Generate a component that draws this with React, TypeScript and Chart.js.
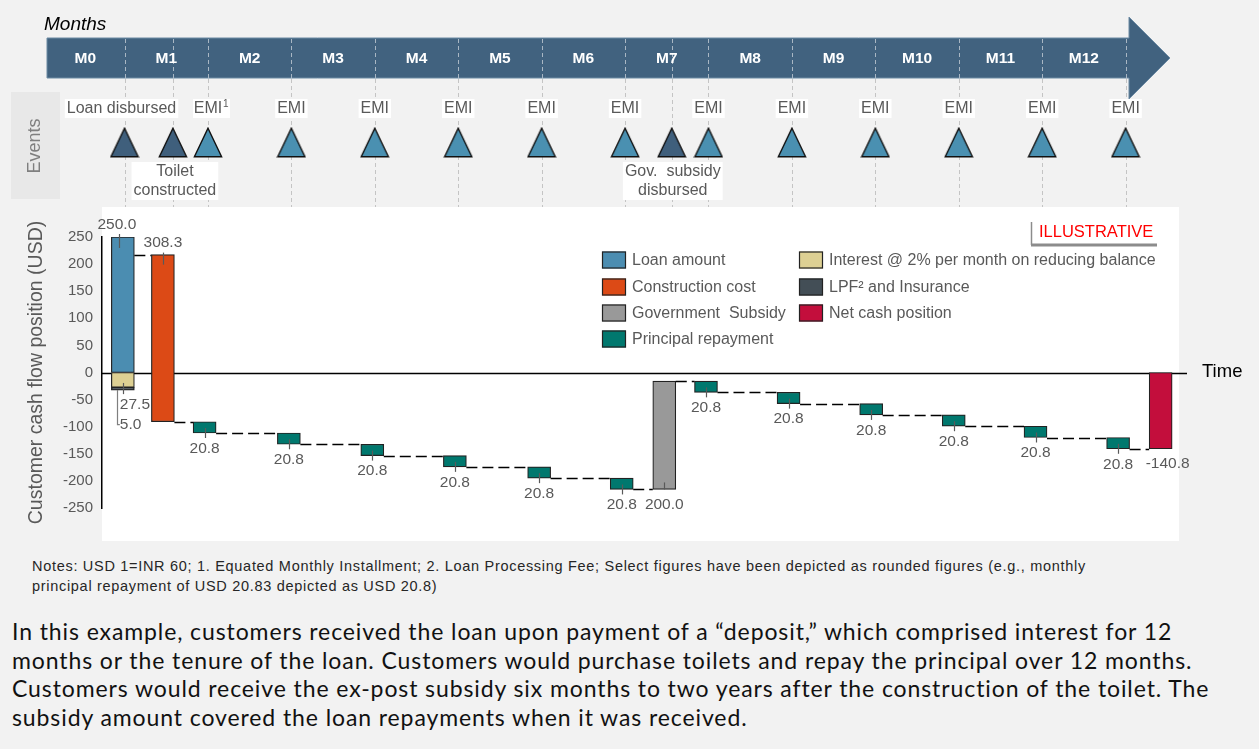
import React, { useEffect, useRef } from 'react';
import { Chart, registerables } from 'chart.js';

Chart.register(...registerables);

const FONT = "'Liberation Sans', Arial, sans-serif";

// ---------- timeline (months) ----------
const monthLabels = ['M0', 'M1', 'M2', 'M3', 'M4', 'M5', 'M6', 'M7', 'M8', 'M9', 'M10', 'M11', 'M12'];
const monthCentres = [0.53, 1.5, 2.5, 3.5, 4.5, 5.5, 6.5, 7.5, 8.5, 9.5, 10.5, 11.5, 12.5];

// ---------- events ----------
const milestoneTimes = [1.0, 1.58, 7.56];
const milestoneLabels = [['Loan disbursed'], ['Toilet', 'constructed'], ['Gov.  subsidy', 'disbursed']];
const emiTimes = [2, 3, 4, 5, 6, 7, 8, 9, 10, 11, 12, 13];
const emiLabel = 'EMI';

// ---------- waterfall values (USD) ----------
const loanAmount = 250.0;
const interestDeposit = 27.5;
const lpfInsurance = 5.0;
const constructionCost = 308.3;
const principalRepayments = [20.83, 20.83, 20.83, 20.83, 20.83, 20.83, 20.83, 20.83, 20.83, 20.83, 20.83, 20.83];
const governmentSubsidy = 200.0;

// bar times (months)
const loanTime = 0.98;
const constructionTime = 1.46;
const principalTimes = [1.96, 2.97, 3.97, 4.96, 5.97, 6.96, 7.97, 8.96, 9.95, 10.94, 11.92, 12.91];
const subsidyTime = 7.47;
const netTime = 13.42;

const seriesNames = [
  'Loan amount',
  'Construction cost',
  'Government  Subsidy',
  'Principal repayment',
  'Interest @ 2% per month on reducing balance',
  'LPF² and Insurance',
  'Net cash position',
];
const seriesColors = ['#4b8db1', '#dc4a16', '#999999', '#00786e', '#ddd093', '#434e56', '#c30e3c'];

const yTicks = { min: -250, max: 250, step: 50 };
const xRange = { min: 0.73, max: 13.64 };

// ---------- waterfall construction ----------
let level = loanAmount - interestDeposit - lpfInsurance;
const constructionBar: [number, number] = [level, level - constructionCost];
level -= constructionCost;
const connectors: { t0: number; t1: number; v: number }[] = [];
connectors.push({ t0: loanTime, t1: constructionTime, v: constructionBar[0] });
let prevT = constructionTime;
let govBar: [number, number] = [0, 0];
let subsidyDone = false;
const principalBars: [number, number][] = [];
principalTimes.forEach((t, i) => {
  if (!subsidyDone && t > subsidyTime) {
    connectors.push({ t0: prevT, t1: subsidyTime, v: level });
    govBar = [level, level + governmentSubsidy];
    level += governmentSubsidy;
    prevT = subsidyTime;
    subsidyDone = true;
  }
  connectors.push({ t0: prevT, t1: t, v: level });
  principalBars.push([level, level - principalRepayments[i]]);
  level -= principalRepayments[i];
  prevT = t;
});
connectors.push({ t0: prevT, t1: netTime, v: level });
const netBar: [number, number] = [0, level];

function makeTriangle(fill: string) {
  const c = document.createElement('canvas');
  c.width = 30;
  c.height = 31;
  const g = c.getContext('2d')!;
  g.beginPath();
  g.moveTo(15, 1.2);
  g.lineTo(28.6, 29.8);
  g.lineTo(1.4, 29.8);
  g.closePath();
  g.fillStyle = fill;
  g.fill();
  g.lineWidth = 1.4;
  g.strokeStyle = '#111';
  g.lineJoin = 'miter';
  g.stroke();
  return c;
}

const timelinePlugin = {
  id: 'timeline',
  beforeDatasetsDraw(chart: any) {
    const ctx = chart.ctx as CanvasRenderingContext2D;
    const xs = chart.scales.x;
    ctx.save();
    // Months caption
    ctx.font = `italic 19px ${FONT}`;
    ctx.fillStyle = '#000';
    ctx.textBaseline = 'middle';
    ctx.textAlign = 'left';
    ctx.fillText('Months', 44, 25);

    // Events box
    ctx.fillStyle = '#e8e8e8';
    ctx.fillRect(11, 92, 49, 107);
    ctx.save();
    ctx.translate(35, 146);
    ctx.rotate(-Math.PI / 2);
    ctx.font = `18px ${FONT}`;
    ctx.fillStyle = '#7f7f7f';
    ctx.textAlign = 'center';
    ctx.fillText('Events', 0, 0);
    ctx.restore();

    // band arrow
    ctx.beginPath();
    ctx.moveTo(47, 38);
    ctx.lineTo(1129, 38);
    ctx.lineTo(1129, 17);
    ctx.lineTo(1170, 58);
    ctx.lineTo(1129, 99);
    ctx.lineTo(1129, 78);
    ctx.lineTo(47, 78);
    ctx.closePath();
    ctx.fillStyle = '#41627f';
    ctx.fill();
    ctx.strokeStyle = '#6d8ba4';
    ctx.lineWidth = 1;
    ctx.stroke();

    // dashed lines
    const all = [...milestoneTimes, ...emiTimes];
    ctx.setLineDash([4, 3]);
    ctx.lineWidth = 1;
    all.forEach((t) => {
      const px = Math.round(xs.getPixelForValue(t)) + 0.5;
      ctx.strokeStyle = '#a9b7c4';
      ctx.beginPath();
      ctx.moveTo(px, 39);
      ctx.lineTo(px, 78);
      ctx.stroke();
      ctx.strokeStyle = '#c4c4c4';
      ctx.beginPath();
      ctx.moveTo(px, 79);
      ctx.lineTo(px, 207);
      ctx.stroke();
    });
    ctx.setLineDash([]);

    // month labels
    ctx.font = `bold 15.5px ${FONT}`;
    ctx.fillStyle = '#ffffff';
    ctx.textAlign = 'center';
    monthLabels.forEach((m, i) => {
      ctx.fillText(m, xs.getPixelForValue(monthCentres[i]), 59);
    });

    // event labels
    ctx.font = `16px ${FONT}`;
    const drawBox = (lines: string[], cx: number, top: number) => {
      const w = Math.max(...lines.map((l) => ctx.measureText(l).width)) + 4;
      const h = lines.length === 1 ? 19 : 38;
      ctx.fillStyle = '#ffffff';
      ctx.fillRect(cx - w / 2, top, w, h);
      ctx.fillStyle = '#595959';
      lines.forEach((l, i) => ctx.fillText(l, cx, top + 10 + i * 19));
    };
    const offs = [-3, 2, 1];
    milestoneTimes.forEach((t, i) => {
      const cx = xs.getPixelForValue(t) + offs[i];
      if (milestoneLabels[i].length === 1) drawBox(milestoneLabels[i], cx, 99);
      else drawBox(milestoneLabels[i], cx, 162);
    });
    emiTimes.forEach((t, i) => {
      const cx = xs.getPixelForValue(t);
      if (i === 0) {
        ctx.fillStyle = '#ffffff';
        ctx.fillRect(cx - 15, 99, 37, 19);
        ctx.fillStyle = '#595959';
        ctx.fillText(emiLabel, cx, 109);
        ctx.font = `10px ${FONT}`;
        ctx.textAlign = 'left';
        ctx.fillText('1', cx + 15, 104);
        ctx.font = `16px ${FONT}`;
        ctx.textAlign = 'center';
      } else {
        drawBox([emiLabel], cx, 99);
      }
    });
    ctx.restore();
  },
};

const waterfallPlugin = {
  id: 'waterfallDecor',
  beforeDraw(chart: any) {
    const ctx = chart.ctx as CanvasRenderingContext2D;
    ctx.save();
    ctx.fillStyle = '#ffffff';
    ctx.fillRect(102, 0, 1077, 334);
    ctx.restore();
  },
  beforeDatasetsDraw(chart: any) {
    const ctx = chart.ctx as CanvasRenderingContext2D;
    const ys = chart.scales.y;
    const y0 = Math.round(ys.getPixelForValue(0)) + 0.5;
    ctx.save();
    ctx.strokeStyle = '#000';
    ctx.lineWidth = 1.3;
    ctx.beginPath();
    ctx.moveTo(chart.chartArea.left, y0);
    ctx.lineTo(1187, y0);
    ctx.stroke();
    ctx.font = `18.5px ${FONT}`;
    ctx.fillStyle = '#000';
    ctx.textAlign = 'left';
    ctx.textBaseline = 'middle';
    ctx.fillText('Time', 1202, y0 - 2);
    ctx.restore();
  },
  afterDatasetsDraw(chart: any) {
    const ctx = chart.ctx as CanvasRenderingContext2D;
    const xs = chart.scales.x;
    const ys = chart.scales.y;
    const half = 11.5;
    ctx.save();
    // connectors
    ctx.strokeStyle = '#000';
    ctx.lineWidth = 1.3;
    ctx.setLineDash([11, 5]);
    connectors.forEach((c) => {
      const y = Math.round(ys.getPixelForValue(c.v)) + 0.5;
      ctx.beginPath();
      ctx.moveTo(xs.getPixelForValue(c.t0) + half, y);
      ctx.lineTo(xs.getPixelForValue(c.t1) - half, y);
      ctx.stroke();
    });
    ctx.setLineDash([]);

    const grey = '#595959';
    ctx.font = `15.5px ${FONT}`;
    ctx.fillStyle = grey;
    ctx.strokeStyle = grey;
    ctx.lineWidth = 1.2;
    ctx.textBaseline = 'middle';
    ctx.textAlign = 'center';
    const vline = (x: number, a: number, b: number) => {
      const px = Math.round(x) + 0.5;
      ctx.beginPath();
      ctx.moveTo(px, a);
      ctx.lineTo(px, b);
      ctx.stroke();
    };

    // loan
    const loanEl = chart.getDatasetMeta(0).data[0];
    const loanTop = Math.min(loanEl.y, loanEl.base);
    vline(loanEl.x - 4, loanTop - 3, loanTop + 11);
    ctx.fillText(loanAmount.toFixed(1), loanEl.x - 6, loanTop - 12);

    // construction
    const cEl = chart.getDatasetMeta(1).data[0];
    const cTop = Math.min(cEl.y, cEl.base);
    vline(cEl.x, cTop - 2, cTop + 10);
    ctx.fillText(constructionCost.toFixed(1), cEl.x, cTop - 12);

    // interest & LPF
    const iEl = chart.getDatasetMeta(4).data[0];
    const lEl = chart.getDatasetMeta(5).data[0];
    const iMid = (iEl.y + iEl.base) / 2;
    const lBottom = Math.max(lEl.y, lEl.base);
    vline(iEl.x, iMid + 3, lBottom + 4);
    ctx.textAlign = 'left';
    ctx.fillText(interestDeposit.toFixed(1), iEl.x - 3, lBottom + 15);
    ctx.fillText(lpfInsurance.toFixed(1), iEl.x - 3, lBottom + 35);
    ctx.strokeStyle = '#7f7f7f';
    ctx.beginPath();
    ctx.moveTo(Math.round(iEl.x - 6) + 0.5, lBottom);
    ctx.lineTo(Math.round(iEl.x - 6) + 0.5, lBottom + 34.5);
    ctx.lineTo(iEl.x - 3, lBottom + 34.5);
    ctx.stroke();
    ctx.strokeStyle = grey;
    ctx.textAlign = 'center';

    // principal
    chart.getDatasetMeta(3).data.forEach((el: any, i: number) => {
      const b = Math.max(el.y, el.base);
      vline(el.x, b - 5, b + 5);
      ctx.fillText(principalRepayments[i].toFixed(1), el.x, b + 15.5);
    });

    // gov
    const gEl = chart.getDatasetMeta(2).data[0];
    const gB = Math.max(gEl.y, gEl.base);
    vline(gEl.x, gB - 7, gB);
    ctx.fillText(governmentSubsidy.toFixed(1), gEl.x, gB + 15);

    // net
    const nEl = chart.getDatasetMeta(6).data[0];
    const nB = Math.max(nEl.y, nEl.base);
    ctx.fillText(netBar[1].toFixed(1), nEl.x + 7, nB + 15);

    // legend
    ctx.font = `16px ${FONT}`;
    ctx.textAlign = 'left';
    const rows = [53, 80, 106, 132];
    const drawItem = (ds: number, sx: number, tx: number, cy: number) => {
      ctx.fillStyle = seriesColors[ds];
      ctx.fillRect(sx, cy - 8.5, 24, 17);
      ctx.strokeStyle = '#222';
      ctx.lineWidth = 1.2;
      ctx.strokeRect(sx + 0.5, cy - 8, 23, 16);
      ctx.fillStyle = grey;
      ctx.fillText(seriesNames[ds], tx, cy + 1);
    };
    [0, 1, 2, 3].forEach((ds, i) => drawItem(ds, 602, 632, rows[i]));
    [4, 5, 6].forEach((ds, i) => drawItem(ds, 799, 829, rows[i]));

    // ILLUSTRATIVE
    ctx.strokeStyle = '#8c8c8c';
    ctx.lineWidth = 1.5;
    ctx.beginPath();
    ctx.moveTo(1031.5, 15);
    ctx.lineTo(1031.5, 38);
    ctx.stroke();
    ctx.lineWidth = 3;
    ctx.beginPath();
    ctx.moveTo(1031, 38);
    ctx.lineTo(1157, 38);
    ctx.stroke();
    ctx.fillStyle = '#ff0000';
    ctx.font = `16.5px ${FONT}`;
    ctx.fillText('ILLUSTRATIVE', 1039, 25);
    ctx.restore();
  },
};

export default function App() {
  const topRef = useRef<HTMLCanvasElement>(null);
  const mainRef = useRef<HTMLCanvasElement>(null);

  useEffect(() => {
    const topChart = new Chart(topRef.current!, {
      type: 'scatter',
      data: {
        datasets: [
          {
            data: milestoneTimes.map((t) => ({ x: t, y: 0 })),
            pointStyle: makeTriangle('#3f5f7c') as any,
            pointRadius: 15,
            clip: false as any,
          },
          {
            data: emiTimes.map((t) => ({ x: t, y: 0 })),
            pointStyle: makeTriangle('#4a90b1') as any,
            pointRadius: 15,
            clip: false as any,
          },
        ],
      },
      options: {
        animation: false,
        responsive: false,
        layout: { padding: { left: 102, right: 80, top: 128, bottom: 50 } },
        plugins: { legend: { display: false }, tooltip: { enabled: false } },
        scales: {
          x: { type: 'linear', min: xRange.min, max: xRange.max, display: false },
          y: { type: 'linear', min: -1, max: 1, display: false },
        },
        events: [],
      },
      plugins: [timelinePlugin],
    });

    const barCommon = {
      borderColor: '#222222',
      borderWidth: 1.2,
      borderSkipped: false,
      barThickness: 23,
      grouped: false,
    };

    const mainChart = new Chart(mainRef.current!, {
      type: 'bar',
      data: {
        datasets: [
          { label: seriesNames[0], data: [{ x: loanTime, y: [0, loanAmount] }], backgroundColor: seriesColors[0], ...barCommon },
          { label: seriesNames[1], data: [{ x: constructionTime, y: constructionBar }], backgroundColor: seriesColors[1], ...barCommon },
          { label: seriesNames[2], data: [{ x: subsidyTime, y: govBar }], backgroundColor: seriesColors[2], ...barCommon },
          {
            label: seriesNames[3],
            data: principalTimes.map((t, i) => ({ x: t, y: principalBars[i] })),
            backgroundColor: seriesColors[3],
            ...barCommon,
          },
          { label: seriesNames[4], data: [{ x: loanTime, y: [0, -interestDeposit] }], backgroundColor: seriesColors[4], ...barCommon },
          {
            label: seriesNames[5],
            data: [{ x: loanTime, y: [-interestDeposit, -interestDeposit - lpfInsurance] }],
            backgroundColor: seriesColors[5],
            ...barCommon,
          },
          { label: seriesNames[6], data: [{ x: netTime, y: netBar }], backgroundColor: seriesColors[6], ...barCommon },
        ] as any,
      },
      options: {
        animation: false,
        responsive: false,
        layout: { padding: { left: 0, right: 80, top: 30, bottom: 37 } },
        plugins: { legend: { display: false }, tooltip: { enabled: false } },
        events: [],
        scales: {
          x: { type: 'linear', min: xRange.min, max: xRange.max, display: false, offset: false },
          y: {
            type: 'linear',
            min: yTicks.min,
            max: yTicks.max,
            afterFit: (axis: any) => {
              axis.width = 102;
            },
            ticks: {
              stepSize: yTicks.step,
              color: '#595959',
              font: { family: FONT, size: 15 },
              padding: 9,
            },
            grid: { display: false, drawTicks: false },
            border: { display: true, color: '#000', width: 1.5 },
            title: {
              display: true,
              text: 'Customer cash flow position (USD)',
              color: '#595959',
              font: { family: FONT, size: 19.5 },
              padding: { top: 25, bottom: 0 },
            },
          },
        },
      } as any,
      plugins: [waterfallPlugin],
    });

    return () => {
      topChart.destroy();
      mainChart.destroy();
    };
  }, []);

  return (
    <div
      style={{
        position: 'fixed',
        left: 0,
        top: 0,
        width: 1259,
        height: 749,
        background: '#f2f2f2',
        overflow: 'hidden',
      }}
    >
      <canvas ref={topRef} width={1259} height={207} style={{ position: 'absolute', left: 0, top: 0 }} />
      <canvas ref={mainRef} width={1259} height={338} style={{ position: 'absolute', left: 0, top: 207 }} />
      <div
        style={{
          position: 'absolute',
          left: 32,
          top: 556,
          fontFamily: FONT,
          fontSize: 14.5,
          lineHeight: '20px',
          color: '#262626',
          whiteSpace: 'pre',
          letterSpacing: 0.7,
        }}
      >
        {'Notes: USD 1=INR 60; 1. Equated Monthly Installment; 2. Loan Processing Fee; Select figures have been depicted as rounded figures (e.g., monthly\nprincipal repayment of USD 20.83 depicted as USD 20.8)'}
      </div>
      <div
        style={{
          position: 'absolute',
          left: 12,
          top: 617,
          fontFamily: "Lato, 'Open Sans', sans-serif",
          fontSize: 23,
          lineHeight: '28.5px',
          color: '#111',
          whiteSpace: 'pre',
          letterSpacing: 0.9,
        }}
      >
        {'In this example, customers received the loan upon payment of a \u201cdeposit,\u201d which comprised interest for 12\nmonths or the tenure of the loan. Customers would purchase toilets and repay the principal over 12 months.\nCustomers would receive the ex-post subsidy six months to two years after the construction of the toilet. The\nsubsidy amount covered the loan repayments when it was received.'}
      </div>
    </div>
  );
}
